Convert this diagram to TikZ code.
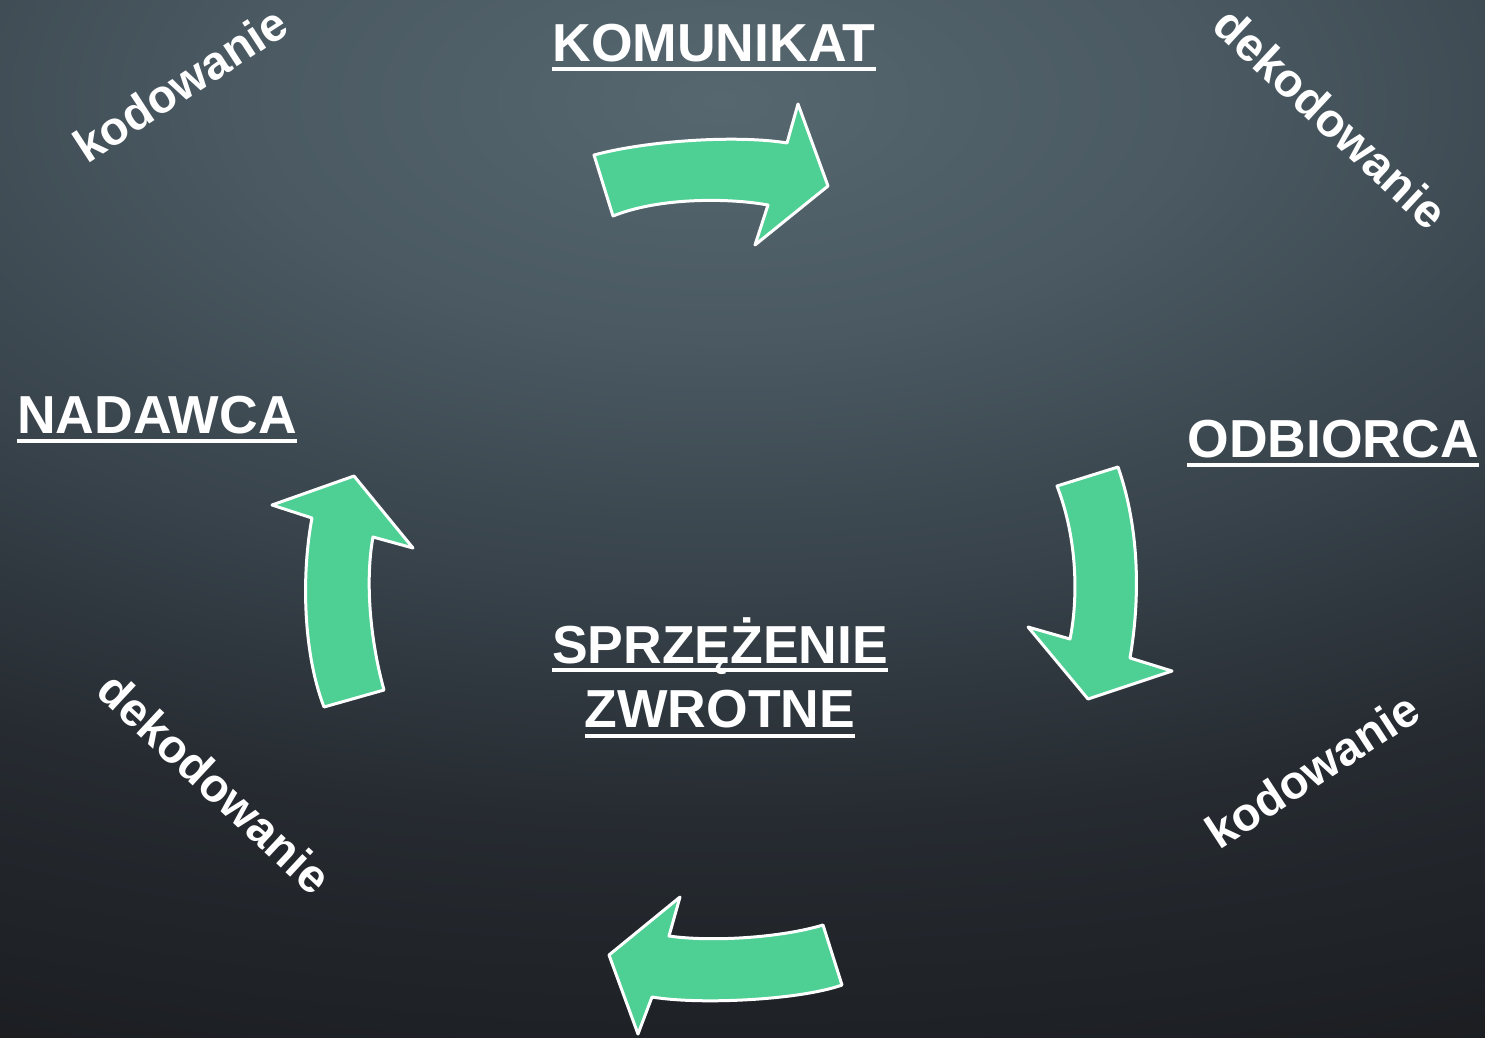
\documentclass[tikz,border=0pt]{standalone}
\usepackage{fontspec}
\setmainfont{Liberation Sans}
\definecolor{arrowgreen}{HTML}{4ECF94}
\definecolor{bgA}{HTML}{56676F}
\definecolor{bgB}{HTML}{4A5962}
\definecolor{bgC}{HTML}{38434B}
\definecolor{bgD}{HTML}{262B31}
\definecolor{bgE}{HTML}{1B1D21}
\pgfdeclareradialshading{slateglow}{\pgfpoint{0bp}{0bp}}{%
  color(0bp)=(bgA); color(4bp)=(bgB); color(8bp)=(bgC);
  color(12bp)=(bgD); color(17bp)=(bgE); color(50bp)=(bgE)}
\tikzset{
  bendarrow/.style={fill=arrowgreen, draw=white, line width=3pt, line join=round},
  title/.style={text=white, inner sep=0pt, anchor=base,
    font=\fontsize{53.5}{60}\selectfont\bfseries},
  diag/.style={text=white, inner sep=0pt,
    font=\fontsize{47}{52}\selectfont\bfseries},
  uline/.style={draw=white, line width=4pt}
}
\newcommand{\underrule}[2]{%
  \draw[uline] ([yshift=-#2]#1.base west) -- ([yshift=-#2]#1.base east);}
\begin{document}
\begin{tikzpicture}[x=1pt, y=-1pt]
  % background
  \begin{scope}
    \clip (0,0) rectangle (1485,1037);
    \fill[bgE] (0,0) rectangle (1485,1037);
    \shade[shading=slateglow] (720,100) ellipse [x radius=3000, y radius=1500];
  \end{scope}
  \useasboundingbox (0,0) rectangle (1485,1037);

  % curved arrows
  \draw[bendarrow] (594,155) .. controls (650,140) and (740,135) .. (787,143)
    -- (798,104) -- (828,186) -- (755,245) -- (768,205)
    .. controls (730,198) and (660,197) .. (613,216) -- cycle;
  \draw[bendarrow] (1057,486) -- (1118,467)
    .. controls (1140,530) and (1140,600) .. (1130,658)
    -- (1172,671) -- (1088,699) -- (1028,627) -- (1070,639)
    .. controls (1078,600) and (1078,540) .. (1057,486) -- cycle;
  \draw[bendarrow] (823,925) -- (842,985)
    .. controls (800,1000) and (700,1005) .. (652,997)
    -- (638,1034) -- (609,955) -- (680,897) -- (669,936)
    .. controls (710,942) and (780,938) .. (823,925) -- cycle;
  \draw[bendarrow] (324,707) -- (384,690)
    .. controls (370,640) and (365,580) .. (373,537)
    -- (413,548) -- (354,476) -- (272,505) -- (312,518)
    .. controls (302,570) and (302,650) .. (324,707) -- cycle;

  % titles
  \node[title] (kom) at (714,61) {KOMUNIKAT};
  \node[title] (nad) at (157,433) {NADAWCA};
  \node[title] (odb) at (1333,457) {ODBIORCA};
  \node[title] (spr) at (720,663) {SPRZĘŻENIE};
  \node[title] (zwr) at (720,727) {ZWROTNE};
  \underrule{kom}{8pt}
  \underrule{nad}{8pt}
  \underrule{odb}{8pt}
  \underrule{spr}{7pt}
  \underrule{zwr}{9pt}

  % coding labels
  \node[diag, rotate=33] (kod1) at (180,84) {kodowanie};
  \node[diag, rotate=-43] (dek1) at (1331,118) {dekodowanie};
  \node[diag, rotate=-43] (dek2) at (215,783) {dekodowanie};
  \node[diag, rotate=33] (kod2) at (1312,770) {kodowanie};
\end{tikzpicture}
\end{document}
